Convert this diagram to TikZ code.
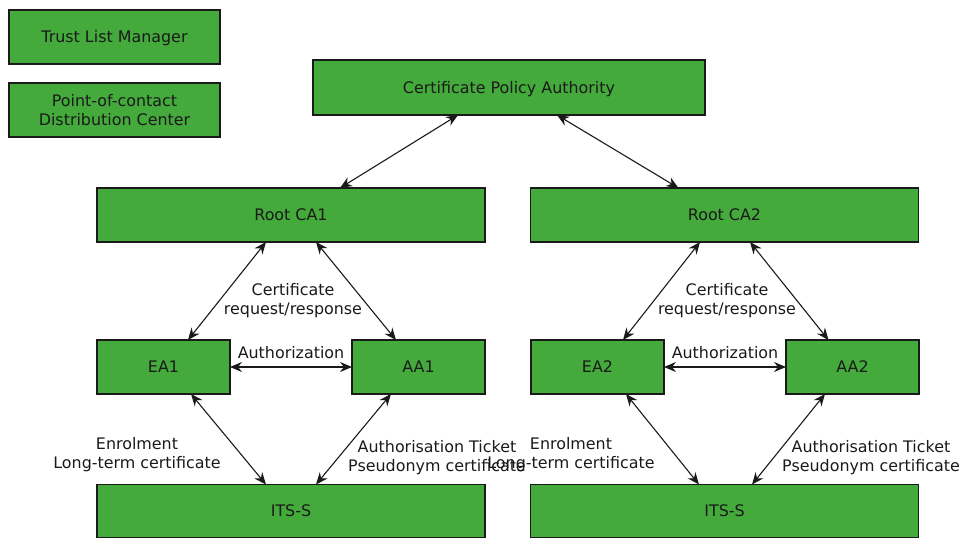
\documentclass[tikz,border=0pt]{standalone}
\usepackage{fontspec}
\setmainfont{DejaVu Sans}
\usetikzlibrary{arrows.meta}
\definecolor{boxgreen}{RGB}{67,170,59}
\definecolor{ink}{RGB}{26,26,26}
\begin{document}
\begin{tikzpicture}[x=1pt,y=-1pt,
  font=\fontsize{15.9}{18.8}\selectfont,
  entity/.style={draw=ink, fill=boxgreen, line width=1.2pt, inner sep=0pt,
    outer sep=0pt, text=ink, align=center, minimum height=54pt},
  oneline/.style={entity, text height=11.6pt, text depth=0pt},
  link/.style={draw=ink, line width=1.1pt,
    {Stealth[length=12pt,width=10pt,inset=4pt]}-{Stealth[length=12pt,width=10pt,inset=4pt]}},
  note/.style={text=ink, align=center, inner sep=0pt}]
\useasboundingbox (0,0) rectangle (964,539);

% legend boxes
\node[oneline, minimum width=211pt] (tlm) at (114.5,37) {Trust List Manager};
\node[entity, minimum width=211pt] (poc) at (114.5,110) {Point-of-contact\\Distribution Center};

% top authority
\node[oneline, minimum width=392pt, minimum height=55pt] (cpa) at (509,87.5) {Certificate Policy Authority};

% left hierarchy
\node[oneline, minimum width=388pt] (rca1) at (291,215) {Root CA1};
\node[oneline, minimum width=133pt] (ea1) at (163.5,367) {EA1};
\node[oneline, minimum width=133pt] (aa1) at (418.5,367) {AA1};
\node[oneline, minimum width=388pt, minimum height=53pt] (its1) at (291,511) {ITS-S};

% right hierarchy
\node[oneline, minimum width=388pt] (rca2) at (724.5,215) {Root CA2};
\node[oneline, minimum width=133pt] (ea2) at (597.5,367) {EA2};
\node[oneline, minimum width=133pt] (aa2) at (852.5,367) {AA2};
\node[oneline, minimum width=388pt, minimum height=53pt] (its2) at (724.5,511) {ITS-S};

% links to the policy authority
\draw[link] ([xshift=-51pt]cpa.south) -- ([xshift=49pt]rca1.north);
\draw[link] ([xshift=48pt]cpa.south) -- ([xshift=-46pt]rca2.north);

% left links
\draw[link] ([xshift=-25pt]rca1.south) -- ([xshift=24.5pt]ea1.north);
\draw[link] ([xshift=25pt]rca1.south) -- ([xshift=-22.5pt]aa1.north);
\draw[link] (ea1.east) -- (aa1.west);
\draw[link] ([xshift=27.5pt]ea1.south) -- ([xshift=-25pt]its1.north);
\draw[link] ([xshift=-27.5pt]aa1.south) -- ([xshift=25pt]its1.north);

% right links
\draw[link] ([xshift=-24.5pt]rca2.south) -- ([xshift=25.5pt]ea2.north);
\draw[link] ([xshift=25.5pt]rca2.south) -- ([xshift=-24pt]aa2.north);
\draw[link] (ea2.east) -- (aa2.west);
\draw[link] ([xshift=28.5pt]ea2.south) -- ([xshift=-25.5pt]its2.north);
\draw[link] ([xshift=-27.5pt]aa2.south) -- ([xshift=27.5pt]its2.north);

% connector labels
\node[note] (crq1) at (293,301) {Certificate\\request/response};
\node[note] (crq2) at (727,301) {Certificate\\request/response};
\node[note] (auz1) at (291,353) {Authorization};
\node[note] (auz2) at (725,353) {Authorization};
\node[note] (enr1) at (137,455) {Enrolment\\Long-term certificate};
\node[note] (atk1) at (437,458) {Authorisation Ticket\\Pseudonym certificate};
\node[note] (enr2) at (571,455) {Enrolment\\Long-term certificate};
\node[note] (atk2) at (871,458) {Authorisation Ticket\\Pseudonym certificate};
\end{tikzpicture}
\end{document}
